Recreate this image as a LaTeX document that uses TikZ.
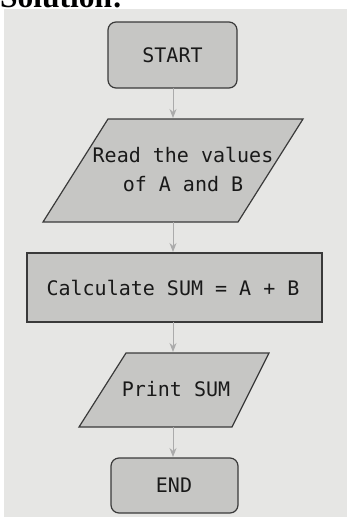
\documentclass[tikz,border=0pt]{standalone}
\usepackage{fontspec}
\setmainfont{Liberation Serif}
\newfontfamily\flowfont{DejaVu Sans Mono}
\usetikzlibrary{arrows.meta}
\definecolor{photobg}{HTML}{E6E6E4}
\definecolor{boxfill}{HTML}{C6C6C4}
\definecolor{boxline}{HTML}{3A3A3A}
\definecolor{arrowc}{HTML}{ABABAB}
\begin{document}
\begin{tikzpicture}[x=1pt,y=-1pt,
  shapeline/.style={draw=boxline,fill=boxfill,line width=1.2pt},
  flowtext/.style={font=\flowfont\fontsize{20}{29}\selectfont,text=black!90,align=center},
  flowarrow/.style={draw=arrowc,line width=1pt,-{Stealth[length=9pt,width=7pt]}}]
\useasboundingbox (0,0) rectangle (347,517);
\fill[white] (0,0) rectangle (347,517);
\fill[photobg] (4,9) rectangle (347,517);
\begin{scope}
\clip (0,0) rectangle (347,517);
\node[anchor=base west,inner sep=0pt,font=\bfseries\fontsize{31.5}{34}\selectfont] (title) at (0,7) {Solution:};
\end{scope}
% START
\draw[shapeline,rounded corners=8pt] (108,22) rectangle (237,88);
\node[flowtext] (start) at (172.5,55) {START};
\coordinate (startb) at (173,88);
% parallelogram 1
\draw[shapeline] (108,119) -- (303,119) -- (238,222) -- (43,222) -- cycle;
\node[flowtext] (read) at (183,169) {Read the values\\of A and B};
\coordinate (readt) at (173,119);
\coordinate (readb) at (173,222);
% process
\draw[shapeline] (27,253) rectangle (322,322);
\node[flowtext] (calc) at (173,288) {Calculate SUM = A + B};
\coordinate (calct) at (173,253);
\coordinate (calcb) at (173,322);
% parallelogram 2
\draw[shapeline] (126,353) -- (269,353) -- (232,427) -- (79,427) -- cycle;
\node[flowtext] (print) at (176,389) {Print SUM};
\coordinate (printt) at (173,353);
\coordinate (printb) at (173,427);
% END
\draw[shapeline,rounded corners=8pt] (111,458) rectangle (238,513);
\node[flowtext] (endn) at (174,485) {END};
\coordinate (endt) at (173,458);
% arrows
\draw[flowarrow] (startb) -- ([yshift=1pt]readt);
\draw[flowarrow] (readb) -- ([yshift=1pt]calct);
\draw[flowarrow] (calcb) -- ([yshift=1pt]printt);
\draw[flowarrow] (printb) -- ([yshift=1pt]endt);
\end{tikzpicture}
\end{document}
